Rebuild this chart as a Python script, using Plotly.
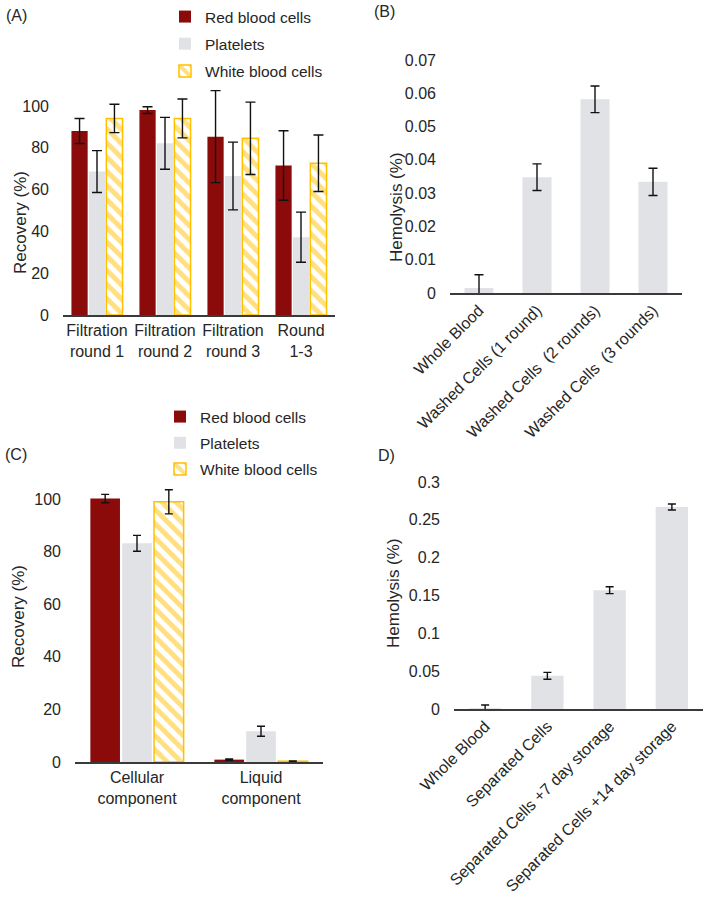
import plotly.graph_objects as go

W, H = 709, 898

# ---------------- data ----------------
series_names = ["Red blood cells", "Platelets", "White blood cells"]

groups_a = ["Filtration<br>round 1", "Filtration<br>round 2", "Filtration<br>round 3", "Round<br>1-3"]
rbc_a = [88.0, 98.0, 85.3, 71.5]
rbc_a_err = [6.0, 1.6, 22.0, 16.6]
plt_a = [68.6, 82.1, 66.5, 37.2]
plt_a_err = [10.0, 12.4, 16.2, 12.0]
wbc_a = [94.0, 94.0, 84.5, 72.6]
wbc_a_err = [6.8, 9.3, 17.3, 13.5]

cats_b = ["Whole Blood", "Washed Cells (1 round)", "Washed Cells\u00a0 (2 rounds)", "Washed Cells\u00a0 (3 rounds)"]
hem_b = [0.0015, 0.0348, 0.0582, 0.0334]
hem_b_err = [0.004, 0.004, 0.004, 0.0041]

groups_c = ["Cellular<br>component", "Liquid<br>component"]
rbc_c = [100.2, 0.9]
rbc_c_err = [1.6, 0.25]
plt_c = [83.2, 11.7]
plt_c_err = [3.0, 1.9]
wbc_c = [99.0, 0.3]
wbc_c_err = [4.6, 0.1]

cats_d = ["Whole Blood", "Separated Cells", "Separated Cells +7 day storage", "Separated Cells +14 day storage"]
hem_d = [0.0013, 0.0439, 0.157, 0.267]
hem_d_err = [0.004, 0.0045, 0.0045, 0.004]

yticks_rec = [0, 20, 40, 60, 80, 100]
yticks_b = [0, 0.01, 0.02, 0.03, 0.04, 0.05, 0.06, 0.07]
yticks_d = [0, 0.05, 0.1, 0.15, 0.2, 0.25, 0.3]

# ---------------- styles ----------------
RED = "#8B0B0B"
GRAY = "#E1E2E6"
GOLD = "#FFC000"
FONT = "Liberation Sans, Arial, sans-serif"
TXT = "#262626"
AX = "#3a3a3a"


def px_x(p):
    return p / W


def px_y(p):
    return 1 - p / H


def err(arr, w=4.5):
    return dict(type="data", array=arr, visible=True, color="#111111", thickness=1.4, width=w)


fig = go.Figure()


def add_group(x, vals, errs, xa, ya, legend, showlegend, w):
    fig.add_trace(go.Bar(x=x, y=vals[0], error_y=err(errs[0], w), name=series_names[0],
                         marker=dict(color=RED, line=dict(width=0)), xaxis=xa, yaxis=ya,
                         legend=legend, showlegend=showlegend, legendgroup=legend + "r"))
    fig.add_trace(go.Bar(x=x, y=vals[1], error_y=err(errs[1], w), name=series_names[1],
                         marker=dict(color=GRAY, line=dict(width=0)), xaxis=xa, yaxis=ya,
                         legend=legend, showlegend=showlegend, legendgroup=legend + "p"))
    fig.add_trace(go.Bar(x=x, y=vals[2], error_y=err(errs[2], w), name=series_names[2],
                         marker=dict(color="white", line=dict(color=GOLD, width=1.5),
                                     pattern=dict(shape="\\", fgcolor=GOLD, bgcolor="white",
                                                  size=10, solidity=0.5, fillmode="overlay")),
                         xaxis=xa, yaxis=ya,
                         legend=legend, showlegend=showlegend, legendgroup=legend + "w"))


add_group(groups_a, [rbc_a, plt_a, wbc_a], [rbc_a_err, plt_a_err, wbc_a_err], "x", "y", "legend", True, 5)
add_group(groups_c, [rbc_c, plt_c, wbc_c], [rbc_c_err, plt_c_err, wbc_c_err], "x3", "y3", "legend2", True, 4)

fig.add_trace(go.Bar(x=cats_b, y=hem_b, error_y=err(hem_b_err, 4.5), width=0.5,
                     marker=dict(color=GRAY, line=dict(width=0)), xaxis="x2", yaxis="y2", showlegend=False))
fig.add_trace(go.Bar(x=cats_d, y=hem_d, error_y=err(hem_d_err, 4), width=0.52,
                     marker=dict(color=GRAY, line=dict(width=0)), xaxis="x4", yaxis="y4", showlegend=False))

tickfont = dict(family=FONT, size=16, color=TXT)


def xaxis(dom, anchor, angle=0):
    return dict(domain=dom, anchor=anchor, type="category", showline=True, linecolor=AX, linewidth=1.6,
                ticks="", showgrid=False, zeroline=False, tickfont=tickfont, tickangle=angle,
                automargin=False, fixedrange=True)


def yaxis(dom, anchor, rng, tv):
    return dict(domain=dom, anchor=anchor, range=rng, tickvals=tv, showline=False, showgrid=False,
                zeroline=False, ticks="", tickfont=tickfont, ticklabelstandoff=13,
                automargin=False, fixedrange=True)


fig.update_layout(
    width=W, height=H,
    margin=dict(l=0, r=0, t=0, b=0, autoexpand=False),
    paper_bgcolor="white", plot_bgcolor="white",
    barmode="group", bargap=0.23, bargroupgap=0.07,
    font=dict(family=FONT, size=16, color=TXT),
    xaxis=xaxis([px_x(63), px_x(335)], "y"),
    yaxis=yaxis([px_y(315), px_y(85)], "x", [0, 110], yticks_rec),
    xaxis2=xaxis([px_x(450), px_x(682)], "y2", -45),
    yaxis2=yaxis([px_y(293), px_y(60)], "x2", [0, 0.07], yticks_b),
    xaxis3=xaxis([px_x(75), px_x(323)], "y3"),
    yaxis3=yaxis([px_y(762), px_y(486)], "x3", [0, 105], yticks_rec),
    xaxis4=xaxis([px_x(454), px_x(703)], "y4", -45),
    yaxis4=yaxis([px_y(709), px_y(482)], "x4", [0, 0.3], yticks_d),
    legend=dict(x=px_x(165), y=px_y(0), xanchor="left", yanchor="top", bgcolor="rgba(0,0,0,0)",
                font=dict(family=FONT, size=15.5, color=TXT), traceorder="grouped",
                tracegroupgap=4, itemwidth=30),
    legend2=dict(x=px_x(160), y=px_y(400), xanchor="left", yanchor="top", bgcolor="rgba(0,0,0,0)",
                 font=dict(family=FONT, size=15.5, color=TXT), traceorder="grouped",
                 tracegroupgap=3, itemwidth=30),
)

annots = [
    ("(A)", 4, 15, 0, "left"),
    ("(B)", 372, 12, 0, "left"),
    ("(C)", 3, 454, 0, "left"),
    ("D)", 376, 455, 0, "left"),
    ("Recovery (%)", 20, 223, -90, "center"),
    ("Hemolysis (%)", 396, 207, -90, "center"),
    ("Recovery (%)", 18, 617, -90, "center"),
    ("Hemolysis (%)", 393, 593, -90, "center"),
]
for text, x, y, ang, xa in annots:
    fig.add_annotation(text=text, x=px_x(x), y=px_y(y), xref="paper", yref="paper",
                       xanchor=xa, yanchor="middle", showarrow=False, textangle=ang,
                       font=dict(family=FONT, size=16 if ang == 0 else 17, color=TXT))

fig.write_html("out.html", config={"displayModeBar": False},
               post_script="document.body.style.margin='0';document.body.style.overflow='hidden';")
